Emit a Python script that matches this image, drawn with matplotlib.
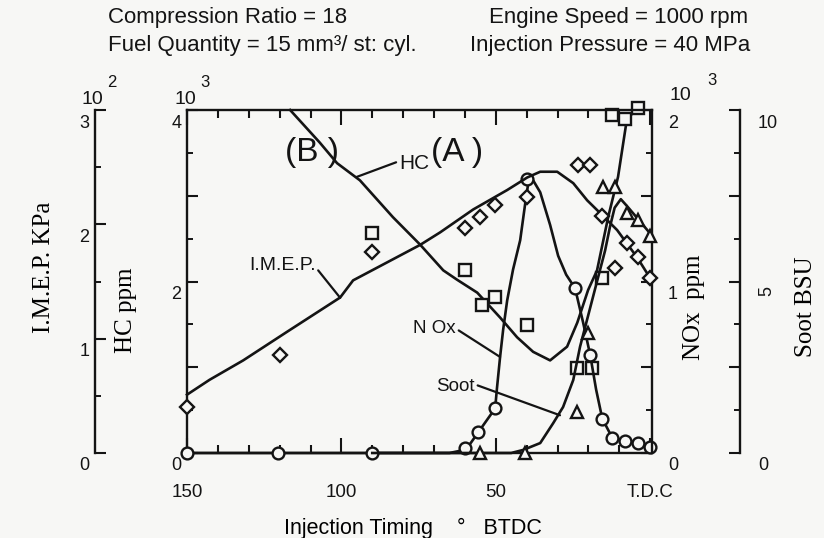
import matplotlib
matplotlib.use("Agg")
import matplotlib.pyplot as plt
from matplotlib.ticker import FixedLocator, MultipleLocator
from matplotlib.transforms import ScaledTranslation

# injection timing in deg BTDC, read for each curve / marker set
hc_line_deg = [116.6, 107, 101.4, 94, 83.3, 74.5, 67, 62.5, 56, 48.6, 43.1, 37.9,
               32.4, 26.9, 23.6, 20.1, 17.2, 13.6, 10.4, 7.5, 3.9]
hc_line = [4.0, 3.62, 3.38, 3.18, 2.75, 2.43, 2.13, 2.02, 1.87, 1.58, 1.35, 1.18,
           1.08, 1.24, 1.52, 1.9, 2.13, 2.75, 3.22, 3.9, 4.02]
hc_pts_deg = [90.1, 59.9, 54.4, 50.2, 39.8, 23.6, 18.8, 15.5, 12.3, 8.1, 3.9]
hc_pts = [2.57, 2.13, 1.73, 1.82, 1.49, 0.99, 0.99, 2.04, 3.94, 3.9, 4.02]

imep_line_deg = [150, 142.7, 131.8, 117.6, 100.4, 96.2, 74.5, 68.0, 57.3, 46.3,
                 39.8, 35.6, 30.1, 24.9, 20.4, 15.5, 10.7, 4.2, 0]
imep_line = [0.51, 0.64, 0.81, 1.06, 1.36, 1.51, 1.82, 1.93, 2.13, 2.30,
             2.41, 2.46, 2.46, 2.36, 2.21, 2.08, 1.95, 1.71, 1.53]
imep_pts_deg = [150, 119.9, 90.1, 59.9, 55.1, 50.2, 39.8, 23.3, 19.4, 15.5, 11.3, 7.5, 3.9, 0]
imep_pts = [0.40, 0.86, 1.76, 1.97, 2.06, 2.17, 2.24, 2.52, 2.52, 2.07, 1.62, 1.84, 1.71, 1.53]

nox_line_deg = [150, 65, 59.6, 55.7, 50.2, 49.6, 48.6, 47.6, 46.3, 44.4, 42.1, 40.5,
                39.5, 37.9, 35.6, 32.4, 29.8, 27.2, 24.3, 21.7, 19.4, 17.5, 15.5,
                12.3, 8.1, 3.9, 0]
nox_line = [0, 0, 0.02, 0.12, 0.26, 0.38, 0.56, 0.72, 0.89, 1.07, 1.24, 1.45,
            1.57, 1.59, 1.52, 1.33, 1.15, 1.04, 0.96, 0.76, 0.57, 0.37, 0.20,
            0.09, 0.07, 0.06, 0.035]
nox_pts_deg = [150, 120.5, 90.1, 59.9, 55.7, 50.2, 39.8, 24.3, 19.4, 15.5, 12.3, 8.1, 3.9, 0]
nox_pts = [0, 0, 0, 0.03, 0.12, 0.26, 1.60, 0.96, 0.57, 0.20, 0.09, 0.07, 0.06, 0.035]

soot_line_deg = [90, 45, 41.1, 35.6, 31.4, 28.2, 24.9, 22.7, 20.1, 17.5, 14.6, 13.0,
                 11.5, 9.5, 7.5, 4.2, 0]
soot_line = [0, 0, 0.09, 0.29, 0.87, 1.34, 2.13, 3.1, 4.0, 4.9, 5.9, 6.6,
             7.15, 7.4, 7.2, 6.85, 6.4]
soot_pts_deg = [55.1, 40.5, 23.6, 20.1, 15.2, 11.3, 7.5, 3.9, 0]
soot_pts = [0, 0, 1.2, 3.5, 7.76, 7.76, 7.0, 6.8, 6.33]

x_ticks = [150, 100, 50, 0]
x_ticklabels = ["150", "100", "50", "T.D.C"]

PAPER = "#f7f7f5"
INK = "#141414"
SANS = ["Liberation Sans", "DejaVu Sans"]
SERIF = ["Liberation Serif", "DejaVu Serif"]

plt.rcParams["font.family"] = SANS
plt.rcParams["text.color"] = INK
plt.rcParams["axes.edgecolor"] = INK
plt.rcParams["xtick.color"] = INK
plt.rcParams["ytick.color"] = INK

W, H = 824, 538
fig = plt.figure(figsize=(W / 100, H / 100), dpi=100, facecolor=PAPER)
ax = fig.add_axes([187 / W, 85 / H, 465 / W, 343 / H])
ax.set_facecolor(PAPER)
ax_nox = ax.twinx()
ax_imep = ax.twinx()
ax_soot = ax.twinx()

LW = 1.9
SPINE = 1.7
MS = 8.5
MEW = 1.7


def style_y(a, side, pos, major, labels, minor, top, pad):
    for s in ["left", "right", "top", "bottom"]:
        a.spines[s].set_visible(False)
    a.spines[side].set_visible(True)
    a.spines[side].set_position(("axes", pos))
    a.spines[side].set_linewidth(SPINE)
    a.yaxis.set_ticks_position(side)
    a.yaxis.set_label_position(side)
    a.set_ylim(0, top)
    a.yaxis.set_major_locator(FixedLocator(major))
    a.set_yticklabels(labels)
    a.yaxis.set_minor_locator(MultipleLocator(minor))
    a.tick_params(axis="y", which="major", direction="in", length=8, width=1.5,
                  labelsize=13, pad=pad)
    a.tick_params(axis="y", which="minor", direction="in", length=4.5, width=1.4)
    shift = ScaledTranslation(0, -0.11, fig.dpi_scale_trans)
    for t in a.get_yticklabels():
        t.set_transform(t.get_transform() + shift)


style_y(ax, "left", 0, [0, 1, 2, 3, 4], ["0", "", "2", "", "4"], 0.5, 4, 4)
style_y(ax_nox, "right", 1, [0, 0.5, 1, 1.5, 2], ["0", "", "1", "", "2"], 0.25, 2, 11.5)
style_y(ax_imep, "left", -0.198, [0, 1, 2, 3], ["0", "1", "2", "3"], 0.5, 3, 4)
style_y(ax_soot, "right", 1.189, [0, 2.5, 5, 7.5, 10], ["0", "", "5", "", "10"], 1.25, 10, 13)
ax_soot.get_yticklabels()[2].set_rotation(90)

ax.spines["top"].set_visible(True)
ax.spines["bottom"].set_visible(True)
ax.spines["top"].set_linewidth(SPINE)
ax.spines["bottom"].set_linewidth(SPINE)
ax.set_xlim(150, -0.6)
ax.set_xticks(x_ticks)
ax.set_xticklabels(x_ticklabels)
ax.xaxis.set_minor_locator(MultipleLocator(10))
ax.tick_params(axis="x", which="both", direction="in", top=True, bottom=True, width=1.5)
ax.tick_params(axis="x", which="major", length=11, labelsize=13.5, pad=22)
ax.tick_params(axis="x", which="minor", length=6)

# exponent markers above the scales (axes fractions of the main frame)
for xb, xe, yb, ye, e in [(-0.204, -0.161, 1.032, 1.079, "2"),
                          (-0.004, 0.039, 1.032, 1.079, "3"),
                          (1.060, 1.129, 1.041, 1.087, "3")]:
    ax.text(xb, yb, "10", transform=ax.transAxes, ha="center", va="center", fontsize=14)
    ax.text(xe, ye, e, transform=ax.transAxes, ha="center", va="center", fontsize=12)

# axis titles
ax.set_xlabel("Injection Timing    \u00b0   BTDC", fontsize=15.5)
ax.xaxis.set_label_coords(0.486, -0.19)
ax.set_ylabel("HC ppm", family=SERIF, fontsize=18)
ax.yaxis.set_label_coords(-0.1075, 0.417)
ax_imep.set_ylabel("I.M.E.P. KPa", family=SERIF, fontsize=18)
ax_imep.yaxis.set_label_coords(-0.284, 0.542)
ax_nox.set_ylabel("NOx  ppm", family=SERIF, fontsize=18)
ax_nox.yaxis.set_label_coords(1.066, 0.426)
ax_soot.set_ylabel("Soot BSU", family=SERIF, fontsize=18)
ax_soot.yaxis.set_label_coords(1.3075, 0.426)

# curves and measured points
mk = dict(linestyle="none", markersize=MS, markeredgewidth=MEW, markeredgecolor=INK,
          markerfacecolor=PAPER, clip_on=False)
ax.plot(hc_line_deg, hc_line, color=INK, lw=LW, clip_on=False)
ax.plot(hc_pts_deg, hc_pts, marker="s", **mk)
ax_imep.plot(imep_line_deg, imep_line, color=INK, lw=LW, clip_on=False)
ax_imep.plot(imep_pts_deg, imep_pts, marker="D", **dict(mk, markersize=MS - 1))
ax_nox.plot(nox_line_deg, nox_line, color=INK, lw=LW, clip_on=False)
ax_nox.plot(nox_pts_deg, nox_pts, marker="o", **mk)
ax_soot.plot(soot_line_deg, soot_line, color=INK, lw=LW, clip_on=False)
ax_soot.plot(soot_pts_deg, soot_pts, marker="^", **mk)

# curve labels with leaders (in HC-axis units)
lead = dict(arrowstyle="-", color=INK, lw=1.6, shrinkA=0, shrinkB=0)
ax.annotate("HC", xy=(95.0, 3.22), xytext=(76.5, 3.38), fontsize=15, ha="center",
            va="center", arrowprops=dict(lead, relpos=(0.0, 0.6)))
ax.annotate("I.M.E.P.", xy=(100.4, 1.81), xytext=(119.2, 2.19), fontsize=14, ha="center",
            va="center", arrowprops=dict(lead, relpos=(1.0, 0.4)))
ax.annotate("N Ox", xy=(48.6, 1.12), xytext=(69.8, 1.45), fontsize=13.5, ha="center",
            va="center", arrowprops=dict(lead, relpos=(1.0, 0.5)))
ax.annotate("Soot", xy=(29.2, 0.44), xytext=(63.0, 0.78), fontsize=13.5, ha="center",
            va="center", arrowprops=dict(lead, relpos=(1.0, 0.6)))
ax.text(109.5, 3.51, "(B )", fontsize=24, ha="center", va="center")
ax.text(62.5, 3.51, "(A )", fontsize=24, ha="center", va="center")

# operating conditions
fig.text(108 / W, 1 - 18 / H, "Compression Ratio = 18", fontsize=16, va="center")
fig.text(108 / W, 1 - 45 / H, "Fuel Quantity = 15 mm\u00b3/ st: cyl.", fontsize=16, va="center")
fig.text(489 / W, 1 - 18 / H, "Engine Speed = 1000 rpm", fontsize=16, va="center")
fig.text(470 / W, 1 - 45 / H, "Injection Pressure = 40 MPa", fontsize=16, va="center")

fig.savefig("out.png", dpi=100, facecolor=PAPER)
